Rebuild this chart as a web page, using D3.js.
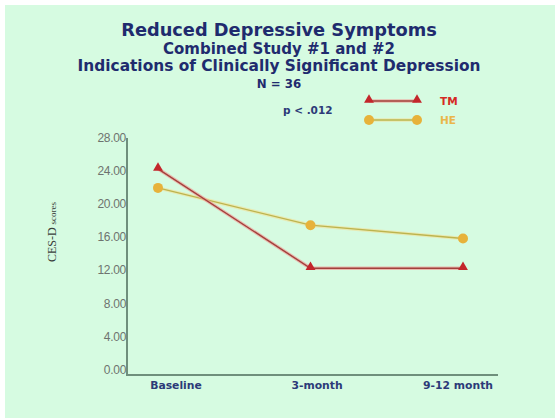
<!DOCTYPE html>
<html>
<head>
<meta charset="utf-8">
<script src="https://cdn.jsdelivr.net/npm/d3@7"></script>
<style>
  html, body { margin: 0; padding: 0; background: #ffffff; }
  svg { display: block; }
</style>
</head>
<body>
<script>
// Time points and CES-D means for each group
const timepoints = ["Baseline", "3-month", "9-12 month"];
const tmScores = [24.4, 12.4, 12.4];
const heScores = [22.1, 17.6, 16.0];
const yTicks = [0, 4, 8, 12, 16, 20, 24, 28];
const titleLines = [
  "Reduced Depressive Symptoms",
  "Combined Study #1 and #2",
  "Indications of Clinically Significant Depression",
  "N = 36"
];

const W = 555, H = 419;
const svg = d3.select("body").append("svg").attr("width", W).attr("height", H);

// slide background
svg.append("rect").attr("x", 5).attr("y", 5).attr("width", W - 5).attr("height", H - 6)
  .attr("fill", "#d6fbe1");

const navy = "#1f2b6e";
const font = "'DejaVu Sans', Verdana, sans-serif";

// titles
const titleSpec = [
  { y: 36, size: 17.8 },
  { y: 54, size: 15 },
  { y: 71, size: 15.4 },
  { y: 88, size: 11.8 }
];
svg.selectAll("text.title").data(titleLines).join("text")
  .attr("class", "title")
  .attr("x", 279)
  .attr("y", (d, i) => titleSpec[i].y)
  .attr("text-anchor", "middle")
  .attr("font-family", font)
  .attr("font-weight", "bold")
  .attr("font-size", (d, i) => titleSpec[i].size)
  .attr("fill", navy)
  .text(d => d);

// scales
const x = d3.scalePoint().domain(timepoints).range([158, 463]);
const xLabel = d3.scalePoint().domain(timepoints).range([176, 458]);
const y = d3.scaleLinear().domain([0, 28]).range([371, 139]);

const axisColor = "#6f8f7c";

// y axis
const yAxis = svg.append("g").attr("transform", "translate(127,0)")
  .call(d3.axisLeft(y).tickValues(yTicks).tickSize(0).tickPadding(1).tickFormat(d3.format(".2f")));
yAxis.select(".domain").remove();
yAxis.selectAll("text")
  .attr("font-family", "'Liberation Sans', Arial, sans-serif")
  .attr("font-size", 12)
  .attr("letter-spacing", -0.3)
  .attr("fill", "#6e736f")
  .attr("dy", "0.2em");

svg.append("line").attr("x1", 127).attr("x2", 127).attr("y1", 138).attr("y2", 375)
  .attr("stroke", axisColor).attr("stroke-width", 2);
svg.append("line").attr("x1", 126).attr("x2", 498).attr("y1", 375).attr("y2", 375)
  .attr("stroke", axisColor).attr("stroke-width", 2);

// x axis labels
svg.append("g").selectAll("text").data(timepoints).join("text")
  .attr("x", d => xLabel(d))
  .attr("y", 389)
  .attr("text-anchor", "middle")
  .attr("font-family", font)
  .attr("font-weight", "bold")
  .attr("font-size", 10.8)
  .attr("fill", "#2c3a78")
  .text(d => d);

// y axis title
const yt = svg.append("text")
  .attr("transform", "translate(56,232) rotate(-90)")
  .attr("text-anchor", "middle")
  .attr("font-family", "'Liberation Serif', 'Times New Roman', serif")
  .attr("fill", "#3a3f3c");
yt.append("tspan").attr("font-size", 12).text("CES-D ");
yt.append("tspan").attr("font-size", 9).text("scores");

// series
const series = [
  { name: "TM", values: tmScores, line: "#a3403c", halo: "#f0a098", marker: "#c3262b", text: "#d52a23", shape: "tri" },
  { name: "HE", values: heScores, line: "#bdb44e", halo: "#efe3a0", marker: "#e7b23a", text: "#eab64a", shape: "dot" }
];

const line = d3.line().x((d, i) => x(timepoints[i])).y(d => y(d));

function drawMarker(g, shape, cx, cy, color) {
  if (shape === "tri") {
    g.append("path")
      .attr("d", d3.symbol(d3.symbolTriangle, 42)())
      .attr("transform", `translate(${cx},${cy - 1})`)
      .attr("fill", color);
  } else {
    g.append("circle").attr("cx", cx).attr("cy", cy).attr("r", 5).attr("fill", color);
  }
}

// draw HE below TM
[series[1], series[0]].forEach(s => {
  const g = svg.append("g");
  g.append("path").datum(s.values).attr("d", line)
    .attr("fill", "none").attr("stroke", s.halo).attr("stroke-width", 3.5).attr("opacity", 0.7);
  g.append("path").datum(s.values).attr("d", line)
    .attr("fill", "none").attr("stroke", s.line).attr("stroke-width", 1.4);
  s.values.forEach((v, i) => drawMarker(g, s.shape, x(timepoints[i]), y(v), s.marker));
});

// p-value note
svg.append("text").attr("x", 283).attr("y", 114)
  .attr("font-family", font).attr("font-weight", "bold").attr("font-size", 10.5)
  .attr("fill", "#2c3a78").text("p < .012");

// legend
series.forEach((s, i) => {
  const ly = 101 + i * 19;
  const g = svg.append("g");
  g.append("line").attr("x1", 369).attr("x2", 417).attr("y1", ly).attr("y2", ly)
    .attr("stroke", s.halo).attr("stroke-width", 3.5).attr("opacity", 0.7);
  g.append("line").attr("x1", 369).attr("x2", 417).attr("y1", ly).attr("y2", ly)
    .attr("stroke", s.line).attr("stroke-width", 1.4);
  drawMarker(g, s.shape, 369, ly, s.marker);
  drawMarker(g, s.shape, 417, ly, s.marker);
  g.append("text").attr("x", 440).attr("y", ly + 4)
    .attr("font-family", font).attr("font-weight", "bold").attr("font-size", 10.5)
    .attr("fill", s.text).text(s.name);
});
</script>
</body>
</html>
